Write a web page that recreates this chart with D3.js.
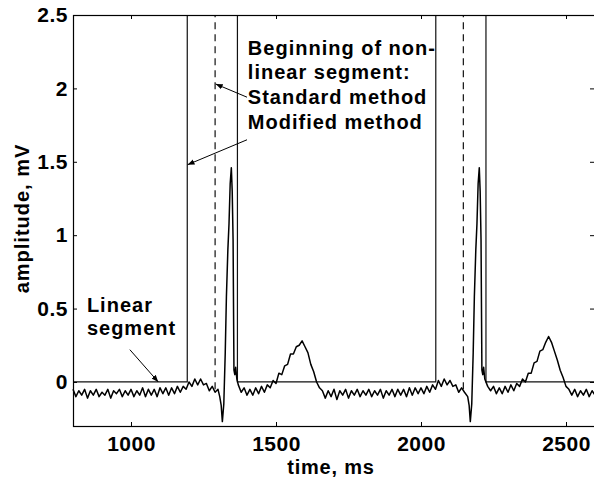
<!DOCTYPE html>
<html lang="en">
<meta charset="utf-8">
<title>ECG linear segment</title>
<style>
  body { margin: 0; background: #fff; }
  text { font-family: "Liberation Sans", Arial, sans-serif; font-weight: bold; fill: #000; }
</style>
<body>
<script src="https://d3js.org/d3.v7.min.js"></script>
<script>
  // ECG samples, time in ms and amplitude in mV
  var ecgTime = [
    800, 810, 820, 830, 840, 850, 860, 870, 880, 890, 900, 910, 920, 930, 940, 950, 960, 970, 980, 990,
    1000, 1010, 1020, 1030, 1040, 1050, 1060, 1070, 1080, 1090, 1100, 1110, 1120, 1130, 1140, 1150,
    1160, 1170, 1180, 1190, 1200, 1210, 1220, 1230, 1240, 1250, 1260, 1270, 1280, 1290, 1300,
    1306, 1311, 1315, 1320, 1325, 1329, 1334, 1338, 1342, 1346, 1349, 1352, 1355, 1358, 1361, 1365,
    1370, 1380, 1390, 1400, 1410, 1420, 1430, 1440, 1450, 1460, 1470, 1480, 1490, 1500, 1510, 1520,
    1530, 1540, 1550, 1560, 1570, 1580, 1590, 1600, 1610, 1620, 1630, 1640, 1650, 1660, 1670, 1680,
    1690, 1700, 1710, 1720, 1730, 1740, 1750, 1760, 1770, 1780, 1790, 1800, 1810, 1820, 1830, 1840,
    1850, 1860, 1870, 1880, 1890, 1900, 1910, 1920, 1930, 1940, 1950, 1960, 1970, 1980, 1990, 2000,
    2010, 2020, 2030, 2040, 2050, 2060, 2070, 2080, 2090, 2100, 2110, 2120, 2130, 2140, 2150,
    2161, 2166, 2170, 2175, 2180, 2184, 2189, 2193, 2197, 2201, 2204, 2207, 2210, 2213, 2216, 2220,
    2230, 2240, 2250, 2260, 2270, 2280, 2290, 2300, 2310, 2320, 2330, 2340, 2350, 2360, 2370, 2380,
    2390, 2400, 2410, 2420, 2430, 2440, 2450, 2460, 2470, 2480, 2490, 2500, 2510, 2520, 2530, 2540,
    2550, 2560, 2570, 2580, 2590, 2600
  ];
  var ecgAmp = [
    -0.05, -0.10, -0.06, -0.09, -0.05, -0.11, -0.06, -0.09, -0.05, -0.10, -0.07, -0.09, -0.05, -0.11, -0.06, -0.08, -0.05, -0.10, -0.06, -0.09,
    -0.05, -0.10, -0.06, -0.09, -0.04, -0.10, -0.05, -0.09, -0.05, -0.10, -0.04, -0.08, -0.04, -0.09, -0.04, -0.08,
    -0.03, -0.07, -0.03, -0.05, 0.00, -0.03, 0.02, -0.02, 0.02, -0.02, -0.01, -0.06, -0.03, -0.07, -0.05,
    -0.10, -0.16, -0.27, -0.15, 0.20, 0.58, 0.90, 1.08, 1.35, 1.46, 1.30, 0.97, 0.08, 0.05, 0.10, 0.02,
    -0.02, -0.07, -0.04, -0.09, -0.05, -0.09, -0.04, -0.08, -0.03, -0.07, -0.02, -0.04, 0.01, -0.01, 0.06, 0.05,
    0.11, 0.12, 0.19, 0.19, 0.24, 0.25, 0.28, 0.24, 0.20, 0.12, 0.07, 0.00, -0.04, -0.06, -0.11, -0.06,
    -0.10, -0.05, -0.12, -0.06, -0.09, -0.05, -0.11, -0.06, -0.09, -0.05, -0.10, -0.06, -0.09, -0.05, -0.10, -0.06,
    -0.09, -0.05, -0.11, -0.06, -0.09, -0.05, -0.10, -0.05, -0.09, -0.05, -0.10, -0.04, -0.09, -0.04, -0.08, -0.04,
    -0.08, -0.03, -0.07, -0.02, -0.05, 0.01, -0.03, 0.02, -0.02, 0.01, -0.03, -0.02, -0.07, -0.04, -0.07,
    -0.10, -0.16, -0.27, -0.15, 0.20, 0.58, 0.90, 1.08, 1.35, 1.46, 1.30, 0.97, 0.08, 0.05, 0.10, 0.02,
    -0.03, -0.06, -0.03, -0.08, -0.04, -0.08, -0.03, -0.07, -0.02, -0.06, -0.01, -0.03, 0.02, 0.00, 0.06, 0.06,
    0.13, 0.14, 0.21, 0.22, 0.27, 0.31, 0.27, 0.21, 0.15, 0.08, 0.03, -0.03, -0.05, -0.09, -0.05, -0.10,
    -0.06, -0.09, -0.05, -0.10, -0.06, -0.09
  ];

  // beginning / end of the non-linear segments, ms
  var modifiedStart = [1194, 2051];
  var standardStart = [1290, 2146];
  var segmentEnd = [1367, 2224];

  var xTicks = [1000, 1500, 2000, 2500];
  var yTicks = [0, 0.5, 1, 1.5, 2, 2.5];

  var margin = {top: 15, right: -1, bottom: 56, left: 73},
    width = 594 - margin.left - margin.right,
    height = 482 - margin.top - margin.bottom;

  var x = d3.scaleLinear().domain([800, 2600]).range([0, width]);
  var y = d3.scaleLinear().domain([-0.3, 2.5]).range([height, 0]);

  var svg = d3.select("body").append("svg")
    .attr("width", 594)
    .attr("height", 482)
    .append("g")
    .attr("transform", "translate(" + margin.left + "," + margin.top + ")");

  svg.append("defs").append("marker")
    .attr("id", "head")
    .attr("viewBox", "0 0 10 10")
    .attr("refX", 10).attr("refY", 5)
    .attr("markerWidth", 7).attr("markerHeight", 7)
    .attr("markerUnits", "userSpaceOnUse")
    .attr("orient", "auto")
    .append("path")
    .attr("d", "M0,1L10,5L0,9Z")
    .attr("fill", "#000");

  // the linear-segment mask: 0 inside, off the top in the non-linear parts
  var yMax = y.domain()[1];
  var mask = [[x.domain()[0], 0]];
  modifiedStart.forEach(function(s, i) {
    mask.push([s, 0], [s, yMax], null, [segmentEnd[i], yMax], [segmentEnd[i], 0]);
  });
  mask.push([x.domain()[1], 0]);

  var line = d3.line()
    .defined(function(d) { return d; })
    .x(function(d) { return x(d[0]); })
    .y(function(d) { return y(d[1]); });

  svg.append("path")
    .datum(mask)
    .attr("fill", "none")
    .attr("stroke", "#111")
    .attr("stroke-width", 1.2)
    .attr("d", line);

  // standard method: dashed verticals
  svg.selectAll(".std")
    .data(standardStart)
    .enter().append("line")
    .attr("class", "std")
    .attr("x1", function(d) { return x(d); })
    .attr("x2", function(d) { return x(d); })
    .attr("y1", y(-0.05))
    .attr("y2", y(yMax))
    .attr("stroke", "#111")
    .attr("stroke-width", 1.2)
    .attr("stroke-dasharray", "7,5");

  // the ECG
  var ecg = ecgTime.map(function(t, i) { return [t, ecgAmp[i]]; });
  svg.append("path")
    .datum(ecg)
    .attr("fill", "none")
    .attr("stroke", "#000")
    .attr("stroke-width", 1.5)
    .attr("stroke-linejoin", "round")
    .attr("d", line);

  // axes, ticks pointing inwards
  svg.append("g")
    .attr("transform", "translate(0," + height + ")")
    .call(d3.axisBottom(x).tickValues(xTicks).tickSize(-4).tickSizeOuter(0).tickPadding(10)
      .tickFormat(d3.format("d")));
  svg.append("g")
    .call(d3.axisTop(x).tickValues(xTicks).tickSize(-4).tickSizeOuter(0).tickFormat(""));
  svg.append("g")
    .call(d3.axisLeft(y).tickValues(yTicks).tickSize(-4).tickSizeOuter(0).tickPadding(5)
      .tickFormat(d3.format("")));
  svg.append("g")
    .attr("transform", "translate(" + width + ",0)")
    .call(d3.axisRight(y).tickValues(yTicks).tickSize(-5).tickSizeOuter(0).tickFormat(""));

  svg.selectAll(".domain").remove();
  svg.selectAll(".tick line").attr("stroke", "#000");
  svg.selectAll(".tick text")
    .style("font-size", "21px")
    .style("letter-spacing", "0.5px");

  // frame
  svg.append("rect")
    .attr("x", 0.5)
    .attr("y", 0.5)
    .attr("width", width)
    .attr("height", height)
    .attr("fill", "none")
    .attr("stroke", "#000")
    .attr("stroke-width", 1.2);

  // annotations
  var notes = [
    {t: 1403, v: 2.23, text: "Beginning of non-"},
    {t: 1403, v: 2.065, text: "linear segment:"},
    {t: 1403, v: 1.895, text: "Standard method"},
    {t: 1403, v: 1.725, text: "Modified method"},
    {t: 848, v: 0.48, text: "Linear"},
    {t: 848, v: 0.32, text: "segment"}
  ];
  svg.selectAll(".note")
    .data(notes)
    .enter().append("text")
    .attr("class", "note")
    .attr("x", function(d) { return x(d.t); })
    .attr("y", function(d) { return y(d.v); })
    .style("font-size", "20px")
    .style("letter-spacing", "1px")
    .text(function(d) { return d.text; });

  var arrows = [
    {from: [1400, 1.94], to: [1292, 2.03]},
    {from: [1400, 1.65], to: [1195, 1.48]},
    {from: [996, 0.22], to: [1094, 0.0]}
  ];
  svg.selectAll(".arrow")
    .data(arrows)
    .enter().append("line")
    .attr("class", "arrow")
    .attr("x1", function(d) { return x(d.from[0]); })
    .attr("y1", function(d) { return y(d.from[1]); })
    .attr("x2", function(d) { return x(d.to[0]); })
    .attr("y2", function(d) { return y(d.to[1]); })
    .attr("stroke", "#000")
    .attr("stroke-width", 1)
    .attr("marker-end", "url(#head)");

  // axis titles
  svg.append("text")
    .attr("x", width / 2 - 3)
    .attr("y", height + 48)
    .attr("text-anchor", "middle")
    .style("font-size", "20px")
    .style("letter-spacing", "0.8px")
    .text("time, ms");
  svg.append("text")
    .attr("transform", "rotate(-90)")
    .attr("x", -(height / 2) + 2)
    .attr("y", -44)
    .attr("text-anchor", "middle")
    .style("font-size", "20px")
    .style("letter-spacing", "1px")
    .text("amplitude, mV");
</script>
</body>
</html>
